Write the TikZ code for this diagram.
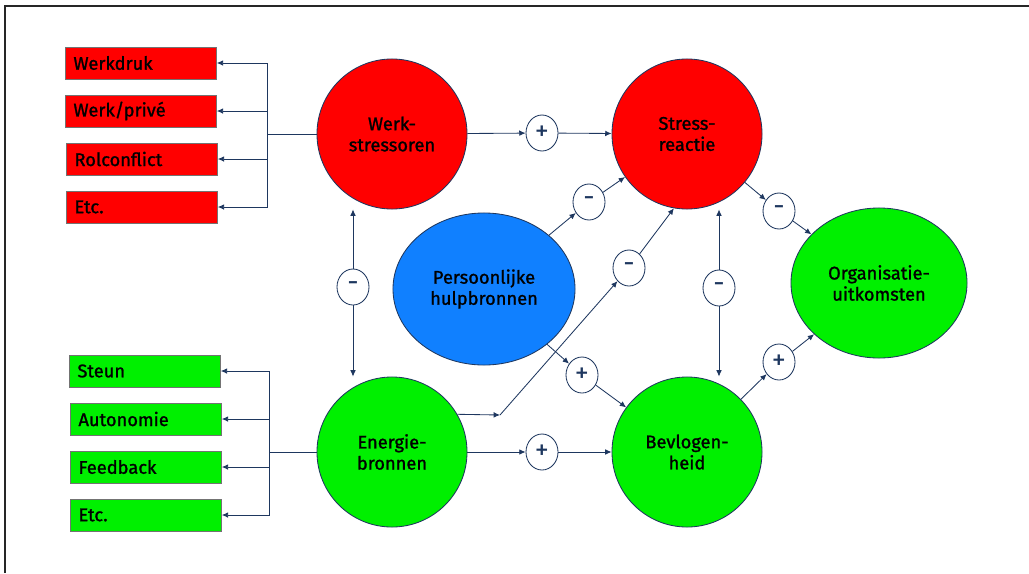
\documentclass[tikz,border=0pt]{standalone}
\usepackage{fontspec}
\setmainfont{Fira Sans}[UprightFeatures={FakeBold=1.2}]
\newfontfamily\tekenfont{Fira Sans}
\usetikzlibrary{arrows.meta,shapes.geometric}
\definecolor{lijn}{RGB}{30,55,95}
\definecolor{rood}{RGB}{255,0,0}
\definecolor{groen}{RGB}{0,240,0}
\definecolor{blauw}{RGB}{16,128,255}
\begin{document}
\begin{tikzpicture}[x=0.025cm, y=-0.025cm, font=\fontsize{13}{15}\selectfont,
  pijl/.style={draw=lijn, line width=0.6pt, -{Latex[length=4.5pt,width=4pt]}},
  lijnstuk/.style={draw=lijn, line width=0.6pt},
  factor/.style={draw=lijn, line width=0.6pt, circle, minimum size=3.75cm, inner sep=0pt, align=center},
  blok/.style={draw=black!55, minimum height=0.8cm, text width=3.375cm, inner xsep=0.2cm, align=left},
  teken/.style={draw=lijn, line width=0.6pt, fill=white, ellipse, minimum width=0.8cm, minimum height=0.9cm, inner sep=0pt, text=lijn, font=\tekenfont\fontsize{20}{20}\selectfont}]
\useasboundingbox (0,0) rectangle (1029,573);
\draw[black!85, line width=1pt] (5,573) -- (5,6) -- (1029,6);

\def\xa{392};
\def\xb{687};
\def\ya{134};
\def\yb{452};

\node[factor, fill=rood] (werkstress) at (\xa, \ya) {Werk-\\stressoren};
\node[factor, fill=rood] (stress) at (\xb, \ya) {Stress-\\reactie};
\node[factor, fill=groen] (energie) at (\xa, \yb) {Energie-\\bronnen};
\node[factor, fill=groen] (bevlogen) at (\xb, \yb) {Bevlogen-\\heid};
\node[factor, ellipse, fill=blauw, minimum width=4.55cm, minimum height=3.8cm] (hulp) at (484, 289) {Persoonlijke\\hulpbronnen};
\node[factor, ellipse, fill=groen, minimum width=4.4cm, minimum height=3.75cm] (organisatie) at (879, 283) {Organisatie-\\uitkomsten};

\node[blok, fill=rood] (werkdruk) at (141, 63) {Werkdruk};
\node[blok, fill=rood] (prive) at (141, 111) {Werk/privé};
\node[blok, fill=rood] (rolconflict) at (142, 159) {Rolconflict};
\node[blok, fill=rood] (etcrood) at (142, 207) {Etc.};
\node[blok, fill=groen] (steun) at (145, 371) {Steun};
\node[blok, fill=groen] (autonomie) at (146, 419) {Autonomie};
\node[blok, fill=groen] (feedback) at (146, 467) {Feedback};
\node[blok, fill=groen] (etcgroen) at (146, 515) {Etc.};

\coordinate (rsplit) at (267, \ya);
\coordinate (gsplit) at (269, \yb);
\draw[lijnstuk] (werkstress) -- (rsplit);
\draw[lijnstuk] (energie) -- (gsplit);
\foreach \n in {werkdruk, prive, rolconflict, etcrood}
  \draw[pijl] (rsplit) |- (\n.east);
\foreach \n in {steun, autonomie, feedback, etcgroen}
  \draw[pijl] (gsplit) |- (\n.east);

\node[teken] (plusA) at (542, 133) {+};
\node[teken] (minA) at (589, 202) {-};
\node[teken] (minB) at (629, 268) {-};
\node[teken] (minL) at (353, 287) {-};
\node[teken] (plusC) at (582, 375) {+};
\node[teken] (plusB) at (542, \yb) {+};
\node[teken] (minR) at (719, 288) {-};
\node[teken] (minD) at (779, 211) {-};
\node[teken] (plusE) at (779, 362) {+};

\draw[pijl] (werkstress) -- (plusA);
\draw[pijl] (plusA) -- (stress);
\draw[pijl] (energie) -- (plusB);
\draw[pijl] (plusB) -- (bevlogen);
\draw[pijl] (hulp) -- (minA);
\draw[pijl] (minA) -- (stress);
\draw[pijl] (hulp) -- (plusC);
\draw[pijl] (plusC) -- (bevlogen);
\coordinate (knik) at (500, 415);
\draw[pijl] (energie.30) -- (knik);
\draw[pijl] (knik) -- (minB);
\draw[pijl] (minB) -- (stress.260);
\draw[pijl] (minL) -- (minL |- werkstress.south);
\draw[pijl] (minL) -- (minL |- energie.north);
\draw[pijl] (minR) -- (minR |- stress.south);
\draw[pijl] (minR) -- (minR |- bevlogen.north);
\draw[pijl] (stress) -- (minD);
\draw[pijl] (minD) -- (organisatie);
\draw[pijl] (bevlogen) -- (plusE);
\draw[pijl] (plusE) -- (organisatie);
\end{tikzpicture}
\end{document}
